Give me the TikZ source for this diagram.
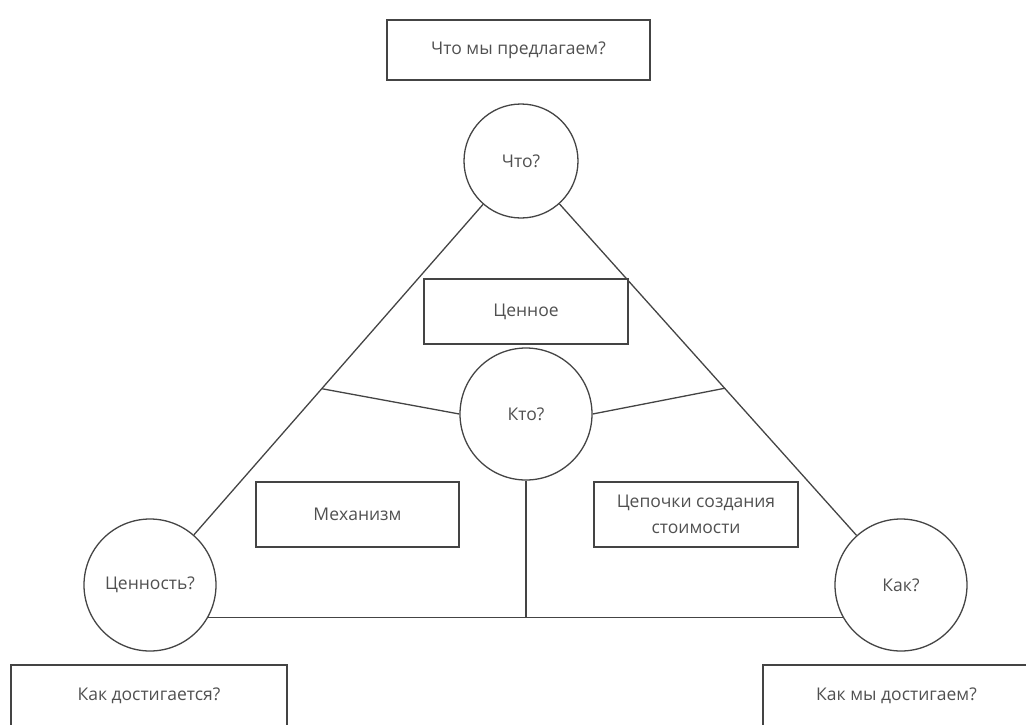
\documentclass[tikz,border=0pt]{standalone}
\usepackage{fontspec}
\setmainfont{Open Sans}
\usetikzlibrary{calc}
\definecolor{ink}{HTML}{444444}
\definecolor{txt}{HTML}{505050}
\begin{document}
\begin{tikzpicture}[x=1pt,y=-1pt,
  line width=1.3pt,
  every node/.style={text=txt,font=\fontsize{17.5}{26}\selectfont},
  box/.style={draw=ink,rectangle,inner sep=0pt,align=center},
  ring/.style={draw=ink,circle,inner sep=0pt,minimum size=#1},
  link/.style={draw=ink}]
\useasboundingbox (0,0) rectangle (1026,724);

% questions in boxes
\node[box,minimum width=263pt,minimum height=60pt] (offer) at (518.5,50) {Что мы предлагаем?};
\node[box,minimum width=276pt,minimum height=62pt] (howleft) at (149,696) {Как достигается?};
\node[box,minimum width=267pt,minimum height=62pt] (howright) at (896.5,696) {Как мы достигаем?};

% inner boxes
\node[box,minimum width=204pt,minimum height=65pt] (valuable) at (526,311.5) {Ценное};
\node[box,minimum width=203pt,minimum height=65pt] (mech) at (357.5,514.5) {Механизм};
\node[box,minimum width=204pt,minimum height=65pt] (chain) at (696,514.5) {Цепочки создания\\стоимости};

% circles
\node[ring=114pt] (what) at (521,161) {Что?};
\node[ring=132pt] (who) at (526,414) {Кто?};
\node[ring=132pt] (value) at (150,585) {Ценность?};
\node[ring=132pt] (how) at (901,585) {Как?};

% triangle sides
\draw[link] (what) -- (value);
\draw[link] (what) -- (how);

% spokes from the centre
\coordinate (sideL) at ($(what.center)!0.537!(value.center)$);
\coordinate (sideR) at ($(what.center)!0.536!(how.center)$);
\draw[link] (who.west) -- (sideL);
\draw[link] (who.east) -- (sideR);

% base line and its stem
\draw[link] (value.-29) -- (how.209);
\draw[link] (who.south) -- (who.south |- value.-29);
\end{tikzpicture}
\end{document}
